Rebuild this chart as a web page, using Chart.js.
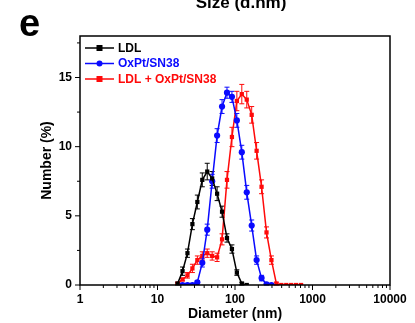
<!DOCTYPE html>
<html>
<head>
<meta charset="utf-8">
<script src="https://cdn.jsdelivr.net/npm/chart.js@4.4.0/dist/chart.umd.min.js"></script>
<style>
  html, body { margin: 0; padding: 0; background: #fff; }
</style>
</head>
<body>
<canvas id="sizeChart" width="415" height="323"></canvas>
<script>
// size bins (nm), log spaced
var sizes = [18.17, 21.04, 24.36, 28.21, 32.67, 37.84, 43.82, 50.75, 58.77, 68.06, 78.82, 91.28, 105.7,
             122.4, 141.8, 164.2, 190.1, 220.2, 255.0, 295.3, 342.0, 396.1, 458.7, 531.2, 615.1, 712.4];

var ldl     = [0.1, 1.0, 2.3, 4.4, 6.0, 7.6, 8.2, 7.7, 6.6, 5.3, 3.4, 2.6, 0.9, 0.1, 0];
var ldlErr  = [0.1, 0.3, 0.3, 0.4, 0.5, 0.5, 0.6, 0.5, 0.5, 0.4, 0.3, 0.3, 0.2, 0.1, 0];

var oxpt    = [null, 0, 0, 0, 0.2, 1.6, 4.0, 7.5, 10.8, 12.9, 13.9, 13.6, 11.9, 9.6, 6.7, 4.3, 1.8, 0.5, 0.05, 0];
var oxptErr = [null, 0, 0, 0, 0.1, 0.3, 0.4, 0.5, 0.5, 0.5, 0.4, 0.4, 0.5, 0.5, 0.5, 0.4, 0.3, 0.2, 0.05, 0];

var combo    = [0.1, 0.4, 0.7, 1.2, 1.8, 2.1, 2.3, 2.1, 2.0, 3.3, 7.6, 10.7, 13.3, 13.8, 13.4, 12.3, 9.7, 7.1, 3.8, 1.8, 0.1, 0, 0, 0, 0, 0];
var comboErr = [0.05, 0.1, 0.2, 0.3, 0.3, 0.3, 0.3, 0.3, 0.3, 0.4, 0.6, 0.7, 0.7, 0.7, 0.6, 0.6, 0.6, 0.5, 0.4, 0.3, 0.1, 0, 0, 0, 0, 0];

var xTickValues = [1, 10, 100, 1000, 10000];
var yTickValues = [0, 5, 10, 15];

var FONT = '"Liberation Sans", Arial, sans-serif';

function toPoints(vals, errs) {
    var pts = [];
    for (var i = 0; i < vals.length; i++) {
        if (vals[i] === null || vals[i] === undefined) continue;
        pts.push({ x: sizes[i], y: vals[i], e: errs[i] || 0 });
    }
    return pts;
}

var series = [
    { label: 'LDL', data: toPoints(ldl, ldlErr), color: '#000000', shape: 'rect' },
    { label: 'OxPt/SN38', data: toPoints(oxpt, oxptErr), color: '#0a0aff', shape: 'circle' },
    { label: 'LDL + OxPt/SN38', data: toPoints(combo, comboErr), color: '#ff0a0a', shape: 'rect' }
];

var decor = {
    id: 'decor',
    beforeDatasetsDraw: function(chart) {
        // error bars
        var ctx = chart.ctx, xs = chart.scales.x, ys = chart.scales.y;
        ctx.save();
        ctx.lineWidth = 1;
        chart.data.datasets.forEach(function(ds) {
            ctx.strokeStyle = ds.borderColor;
            ds.data.forEach(function(p) {
                if (!p.e) return;
                var x = xs.getPixelForValue(p.x);
                var y0 = ys.getPixelForValue(p.y - p.e);
                var y1 = ys.getPixelForValue(p.y + p.e);
                ctx.beginPath();
                ctx.moveTo(x, y0); ctx.lineTo(x, y1);
                ctx.moveTo(x - 2.5, y0); ctx.lineTo(x + 2.5, y0);
                ctx.moveTo(x - 2.5, y1); ctx.lineTo(x + 2.5, y1);
                ctx.stroke();
            });
        });
        ctx.restore();
    },
    afterDraw: function(chart) {
        var ctx = chart.ctx, a = chart.chartArea;
        var xs = chart.scales.x, ys = chart.scales.y;
        ctx.save();
        ctx.strokeStyle = '#000';
        ctx.lineWidth = 1.5;
        ctx.strokeRect(a.left, a.top, a.right - a.left, a.bottom - a.top);

        // tick marks
        ctx.lineWidth = 1;
        ctx.beginPath();
        for (var k = 0; k < 4; k++) {
            for (var m = 1; m < 10; m++) {
                var x = xs.getPixelForValue(m * Math.pow(10, k));
                ctx.moveTo(x, a.bottom);
                ctx.lineTo(x, a.bottom + (m === 1 ? 5 : 3));
            }
        }
        var xe = xs.getPixelForValue(10000);
        ctx.moveTo(xe, a.bottom); ctx.lineTo(xe, a.bottom + 5);
        for (var v = 0; v <= 17.5; v += 2.5) {
            var y = ys.getPixelForValue(v);
            ctx.moveTo(a.left, y);
            ctx.lineTo(a.left - (v % 5 === 0 ? 5 : 3), y);
        }
        ctx.stroke();

        // legend
        ctx.font = 'bold 12px ' + FONT;
        ctx.textBaseline = 'middle';
        chart.data.datasets.forEach(function(ds, i) {
            var ly = 48 + i * 15.5;
            ctx.strokeStyle = ds.borderColor;
            ctx.fillStyle = ds.borderColor;
            ctx.lineWidth = 1.5;
            ctx.beginPath();
            ctx.moveTo(85, ly); ctx.lineTo(114, ly);
            ctx.stroke();
            ctx.beginPath();
            if (ds.pointStyle === 'circle') ctx.arc(99.5, ly, 3, 0, Math.PI * 2);
            else ctx.rect(96.5, ly - 3, 6, 6);
            ctx.fill();
            ctx.fillText(ds.label, 118, ly + 0.5);
        });

        // panel letter and header
        ctx.fillStyle = '#000';
        ctx.textBaseline = 'alphabetic';
        ctx.font = 'bold 38px ' + FONT;
        ctx.fillText('e', 19, 36);
        ctx.font = 'bold 17px ' + FONT;
        ctx.textAlign = 'center';
        ctx.fillText('Size (d.nm)', 241, 8);
        ctx.restore();
    }
};

new Chart(document.getElementById('sizeChart'), {
    type: 'line',
    data: {
        datasets: series.map(function(s) {
            return {
                label: s.label,
                data: s.data,
                borderColor: s.color,
                backgroundColor: s.color,
                borderWidth: 1.5,
                pointStyle: s.shape,
                pointRadius: s.shape === 'circle' ? 3.1 : 3,
                pointBorderWidth: 0,
                tension: 0,
                fill: false
            };
        })
    },
    options: {
        responsive: false,
        animation: false,
        layout: { padding: { left: 30, top: 36, right: 25, bottom: 0 } },
        plugins: {
            legend: { display: false },
            tooltip: { enabled: false }
        },
        scales: {
            x: {
                type: 'logarithmic',
                min: 1,
                max: 10000,
                grid: { display: false, drawTicks: false },
                border: { display: false },
                afterBuildTicks: function(scale) {
                    scale.ticks = xTickValues.map(function(v) { return { value: v }; });
                },
                ticks: {
                    autoSkip: false,
                    maxRotation: 0,
                    padding: 7,
                    color: '#000',
                    font: { family: FONT, size: 12, weight: 'bold' },
                    callback: function(v) { return String(v); }
                },
                title: {
                    display: true,
                    text: 'Diameter (nm)',
                    color: '#000',
                    padding: { top: 2, bottom: 0 },
                    font: { family: FONT, size: 14, weight: 'bold' }
                },
                afterFit: function(scale) { scale.height = 38; }
            },
            y: {
                min: 0,
                max: 18,
                grid: { display: false, drawTicks: false },
                border: { display: false },
                afterBuildTicks: function(scale) {
                    scale.ticks = yTickValues.map(function(v) { return { value: v }; });
                },
                ticks: {
                    padding: 8,
                    color: '#000',
                    font: { family: FONT, size: 12, weight: 'bold' }
                },
                title: {
                    display: true,
                    text: 'Number (%)',
                    color: '#000',
                    padding: { top: 9, bottom: 0 },
                    font: { family: FONT, size: 14, weight: 'bold' }
                },
                afterFit: function(scale) { scale.width = 50; }
            }
        }
    },
    plugins: [decor]
});
</script>
</body>
</html>
